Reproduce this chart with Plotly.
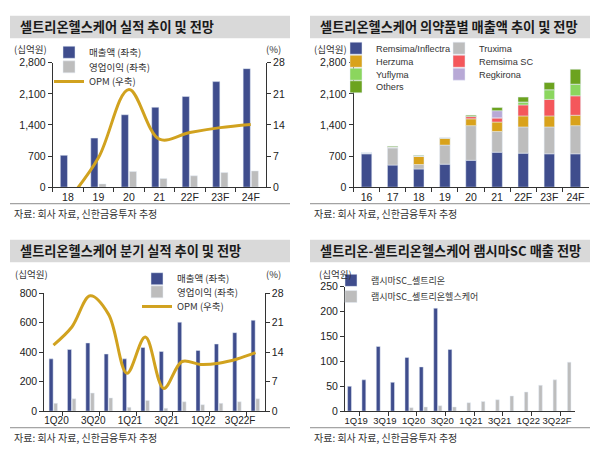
import plotly.graph_objects as go
import numpy as np

W, H = 602, 461


def px(x):
    return x / W


def py(y):
    return 1 - y / H


# ---------------- data ----------------
# Panel 1: annual results
p1_years = ["18", "19", "20", "21", "22F", "23F", "24F"]
p1_sales = [716, 1104, 1630, 1798, 2040, 2376, 2668]
p1_op = [-20, 73, 351, 197, 256, 329, 366]
p1_opm = [-3.0, 6.6, 22.0, 10.8, 12.3, 13.4, 14.1]

# Panel 2: sales by product
p2_years = ["16", "17", "18", "19", "20", "21", "22F", "23F", "24F"]
p2_remsima = [750, 497, 409, 518, 605, 787, 766, 751, 751]
p2_truxima = [22, 385, 101, 429, 780, 467, 590, 605, 634]
p2_herzuma = [0, 22, 190, 162, 153, 212, 248, 248, 234]
p2_remsima_sc = [0, 0, 0, 0, 52, 94, 248, 372, 437]
p2_yuflyma = [0, 0, 0, 0, 0, 0, 66, 218, 263]
p2_regkirona = [0, 0, 0, 0, 0, 161, 0, 0, 0]
p2_others = [0, 15, 15, 0, 29, 73, 109, 161, 335]

# Panel 3: quarterly results
p3_quarters = ["1Q20", "2Q20", "3Q20", "4Q20", "1Q21", "2Q21", "3Q21", "4Q21",
               "1Q22", "2Q22", "3Q22F", "4Q22F"]
p3_sales = [355, 419, 463, 388, 355, 432, 405, 604, 412, 456, 533, 617]
p3_op = [53, 84, 123, 90, 26, 73, 20, 64, 44, 53, 64, 84]
p3_opm = [15.7, 20.0, 27.4, 23.0, 9.0, 17.6, 5.4, 11.8, 11.1, 11.4, 12.4, 13.9]

# Panel 4: Remsima SC sales
p4_quarters = ["1Q19", "2Q19", "3Q19", "4Q19", "1Q20", "2Q20", "3Q20", "4Q20",
               "1Q21", "2Q21", "3Q21", "4Q21", "1Q22", "2Q22", "3Q22F", "4Q22F"]
p4_celltrion = [50, 63, 130, 58, 108, 89, 207, 124,
                None, None, None, None, None, None, None, None]
p4_healthcare = [None, None, None, None, 7, 8.5, 11, 8.5,
                 17, 19.5, 23, 30.5, 38.5, 52, 63, 98.5]

# ---------------- styles ----------------
NAVY = "#3F4D8D"
GREY = "#BDBDBD"
GOLD = "#D1A21F"
FONT = "Liberation Sans, Noto Sans CJK KR, sans-serif"
KFONT = "Noto Sans CJK KR, Liberation Sans, sans-serif"
AX = "#333333"

fig = go.Figure()

# legend helper: each entry its own legend for exact row placement
legend_defs = {}


def add_legend(key, text_x, row_y, size=9.5, family=KFONT):
    legend_defs[key] = dict(
        x=px(text_x - 40), y=py(row_y), xanchor="left", yanchor="middle",
        bgcolor="rgba(0,0,0,0)", borderwidth=0,
        font=dict(family=family, size=size, color="#333333"),
        itemclick=False, itemdoubleclick=False,
    )


# ---------- Panel 1 ----------
fig.add_trace(go.Bar(x=p1_years, y=p1_sales, name="매출액 (좌축)", marker_color=NAVY,
                     width=0.235, offset=-0.25, xaxis="x", yaxis="y", legend="legend"))
fig.add_trace(go.Bar(x=p1_years, y=p1_op, name="영업이익 (좌축)", marker_color=GREY,
                     width=0.23, offset=0.02, xaxis="x", yaxis="y", legend="legend2"))
fig.add_trace(go.Scatter(x=p1_years, y=p1_opm, name="OPM (우축)", mode="lines",
                         line=dict(color=GOLD, width=3, shape="spline", smoothing=1.0),
                         xaxis="x", yaxis="y2", legend="legend3"))
add_legend("legend", 89, 47.5)
add_legend("legend2", 89, 62.5)
add_legend("legend3", 89, 77.5)

# ---------- Panel 2 ----------
p2_series = [
    ("Remsima/Inflectra", p2_remsima, "#3F4D8D"),
    ("Truxima", p2_truxima, "#BDBDBD"),
    ("Herzuma", p2_herzuma, "#D9A21B"),
    ("Remsima SC", p2_remsima_sc, "#F4575B"),
    ("Yuflyma", p2_yuflyma, "#8BD65E"),
    ("Regkirona", p2_regkirona, "#B8A9D6"),
    ("Others", p2_others, "#6CA31F"),
]
p2_leg_pos = [(376, 43.3), (479, 43.3), (376, 56.7), (479, 56.7),
              (376, 70.0), (479, 70.0), (376, 83.0)]
base = np.zeros(len(p2_years))
for i, (name, vals, col) in enumerate(p2_series):
    key = f"legend{4 + i}"
    fig.add_trace(go.Bar(x=p2_years, y=vals, base=base.tolist(), name=name,
                         marker_color=col, width=0.4, offset=-0.2,
                         xaxis="x2", yaxis="y3", legend=key))
    base = base + np.array(vals, dtype=float)
    add_legend(key, p2_leg_pos[i][0], p2_leg_pos[i][1], size=9.2, family=FONT)

# ---------- Panel 3 ----------
x3 = list(range(len(p3_quarters)))
fig.add_trace(go.Bar(x=x3, y=p3_sales, name="매출액 (좌축)", marker_color=NAVY,
                     width=0.22, offset=-0.24, xaxis="x3", yaxis="y4", legend="legend11"))
fig.add_trace(go.Bar(x=x3, y=p3_op, name="영업이익 (좌축)", marker_color=GREY,
                     width=0.2, offset=0.02, xaxis="x3", yaxis="y4", legend="legend12"))
fig.add_trace(go.Scatter(x=x3, y=p3_opm, name="OPM (우축)", mode="lines",
                         line=dict(color=GOLD, width=3, shape="spline", smoothing=1.0),
                         xaxis="x3", yaxis="y5", legend="legend13"))
add_legend("legend11", 177, 280)
add_legend("legend12", 177, 293.5)
add_legend("legend13", 177, 308.5)

# ---------- Panel 4 ----------
x4 = list(range(len(p4_quarters)))
fig.add_trace(go.Bar(x=x4, y=p4_celltrion, name="램시마SC_셀트리온", marker_color=NAVY,
                     width=0.27, offset=-0.32, xaxis="x4", yaxis="y6", legend="legend14"))
fig.add_trace(go.Bar(x=x4, y=p4_healthcare, name="램시마SC_셀트리온헬스케어", marker_color=GREY,
                     width=0.25, offset=0.0, xaxis="x4", yaxis="y6", legend="legend15"))
add_legend("legend14", 371, 281.7, size=9)
add_legend("legend15", 371, 298.3, size=9)

# ---------------- axes ----------------
tickfont = dict(family=FONT, size=10.5, color="#222222")
common_x = dict(showline=True, linecolor=AX, linewidth=1, showgrid=False, zeroline=False,
                tickfont=tickfont, ticklen=4, tickcolor=AX, fixedrange=True, tickangle=0)
common_y = dict(showline=True, linecolor=AX, linewidth=1, showgrid=False, zeroline=False,
                tickfont=tickfont, ticks="outside", ticklen=4, tickcolor=AX, fixedrange=True)

layout_axes = dict(
    xaxis=dict(common_x, domain=[px(52.7), px(266)], anchor="y", type="category",
               ticks="outside", tickson="boundaries"),
    yaxis=dict(common_y, domain=[py(186), py(58.3)], anchor="x", range=[0, 2800],
               dtick=700, tickformat=","),
    yaxis2=dict(common_y, overlaying="y", side="right", anchor="x", range=[0, 28], dtick=7),
    xaxis2=dict(common_x, domain=[px(353.5), px(588.5)], anchor="y3", type="category",
                ticks="outside", tickson="boundaries"),
    yaxis3=dict(common_y, domain=[py(186), py(58.3)], anchor="x2", range=[0, 2800],
                dtick=700, tickformat=","),
    xaxis3=dict(common_x, domain=[px(44.3), px(264.7)], anchor="y4", range=[-0.5, 11.5],
                tickmode="array", tickvals=x3[::2], ticktext=p3_quarters[::2], ticks="",
                tickfont=dict(tickfont, size=10),
                minor=dict(ticks="outside", tickvals=[v + 0.5 for v in x3[::2]],
                           ticklen=4, tickcolor=AX),
                ticklabelshift=3),
    yaxis4=dict(common_y, domain=[py(416), py(295)], anchor="x3", range=[0, 800], dtick=200),
    yaxis5=dict(common_y, overlaying="y4", side="right", anchor="x3", range=[0, 28], dtick=7),
    xaxis4=dict(common_x, domain=[px(345), px(574.6)], anchor="y6", range=[-0.5, 15.5],
                tickmode="array", tickvals=x4[::2], ticktext=p4_quarters[::2], ticks="",
                tickfont=dict(tickfont, size=9.5),
                minor=dict(ticks="outside", tickvals=[v + 0.5 for v in x4[::2]],
                           ticklen=4, tickcolor=AX),
                ticklabelshift=4),
    yaxis6=dict(common_y, domain=[py(416), py(288.3)], anchor="x4", range=[0, 250], dtick=50),
)

# ---------------- decorations ----------------
shapes = []
annotations = []
titles = [
    (10, 290, 10, 33, "셀트리온헬스케어 실적 추이 및 전망"),
    (310, 590, 10, 33, "셀트리온헬스케어 의약품별 매출액 추이 및 전망"),
    (10, 290, 240, 263, "셀트리온헬스케어 분기 실적 추이 및 전망"),
    (310, 590, 240, 263, "셀트리온-셀트리온헬스케어 램시마SC 매출 전망"),
]
for x0, x1, y0, y1, t in titles:
    shapes.append(dict(type="rect", xref="paper", yref="paper", x0=px(x0), x1=px(x1),
                       y0=py(y1), y1=py(y0), fillcolor="#D9D9D9", line=dict(width=0),
                       layer="below"))
    annotations.append(dict(text=t, x=px(x0 + 8), y=py((y0 + y1) / 2), xref="paper",
                            yref="paper", xanchor="left", yanchor="middle", showarrow=False,
                            font=dict(family=KFONT, size=13.2, color="#1A1A1A", weight=700)))

for x0, x1, yl, ys in [(10, 290, 203, 213.5), (310, 590, 203, 213.5),
                       (10, 290, 433, 443.5), (310, 590, 433, 443.5)]:
    shapes.append(dict(type="line", xref="paper", yref="paper", x0=px(x0), x1=px(x1),
                       y0=py(yl), y1=py(yl), line=dict(color="#8C8C8C", width=1)))
    annotations.append(dict(text="자료: 회사 자료, 신한금융투자 추정", x=px(x0 + 2), y=py(ys),
                            xref="paper", yref="paper", xanchor="left", yanchor="middle",
                            showarrow=False,
                            font=dict(family=KFONT, size=10, color="#333333")))

units = [(12, 44, "(십억원)", "left"), (283, 44, "(%)", "right"),
         (312, 44, "(십억원)", "left"),
         (13, 275, "(십억원)", "left"), (283, 275, "(%)", "right"),
         (317, 275, "(십억원)", "left")]
for x, y, t, anc in units:
    annotations.append(dict(text=t, x=px(x), y=py(y), xref="paper", yref="paper",
                            xanchor=anc, yanchor="middle", showarrow=False,
                            font=dict(family=KFONT, size=9.5, color="#333333")))

fig.update_layout(
    width=W, height=H, margin=dict(l=0, r=0, t=0, b=0, pad=0),
    paper_bgcolor="white", plot_bgcolor="white",
    font=dict(family=FONT, size=10.5, color="#222222"),
    barmode="overlay", showlegend=True,
    shapes=shapes, annotations=annotations,
    **layout_axes,
    **legend_defs,
)

fig.write_html("out.html", include_plotlyjs=True, config=dict(displayModeBar=False))
